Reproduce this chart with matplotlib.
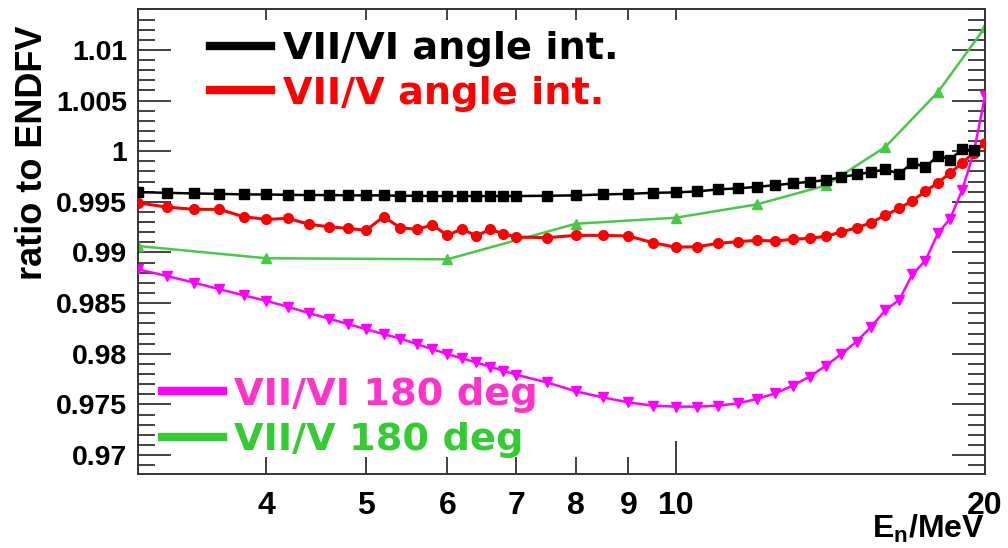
import matplotlib
matplotlib.use("Agg")
import matplotlib.pyplot as plt
from matplotlib.lines import Line2D
from matplotlib.ticker import FixedLocator, FixedFormatter, MultipleLocator

# Neutron energy grid (MeV) for the angle-integrated and 180 deg VII/VI ratios
energy = [3.0, 3.2, 3.4, 3.6, 3.8, 4.0, 4.2, 4.4, 4.6, 4.8, 5.0, 5.2, 5.4, 5.6,
          5.8, 6.0, 6.2, 6.4, 6.6, 6.8, 7.0, 7.5, 8.0, 8.5, 9.0, 9.5, 10.0,
          10.5, 11.0, 11.5, 12.0, 12.5, 13.0, 13.5, 14.0, 14.5, 15.0, 15.5,
          16.0, 16.5, 17.0, 17.5, 18.0, 18.5, 19.0, 19.5, 20.0]

# VII/VI angle integrated (ends at 19.5 MeV)
vii_vi_int = [0.99596, 0.99589, 0.99583, 0.99579, 0.99573, 0.99573, 0.99569,
              0.99567, 0.99567, 0.99564, 0.99564, 0.99564, 0.99560, 0.99560,
              0.99557, 0.99557, 0.99557, 0.99557, 0.99557, 0.99557, 0.99557,
              0.99560, 0.99564, 0.99573, 0.99579, 0.99589, 0.99593, 0.99603,
              0.99623, 0.99633, 0.99648, 0.99665, 0.99682, 0.99698, 0.99714,
              0.99744, 0.99770, 0.99793, 0.99820, 0.99777, 0.99885, 0.99842,
              0.99957, 0.99918, 1.00017, 1.00007]

# VII/V angle integrated
vii_v_int = [0.99491, 0.99448, 0.99426, 0.99426, 0.99353, 0.99327, 0.99337,
             0.99278, 0.99254, 0.99238, 0.99219, 0.99353, 0.99244, 0.99229,
             0.99271, 0.99169, 0.99234, 0.99163, 0.99229, 0.99185, 0.99153,
             0.99146, 0.99169, 0.99169, 0.99163, 0.99097, 0.99052, 0.99057,
             0.99090, 0.99107, 0.99120, 0.99113, 0.99130, 0.99140, 0.99160,
             0.99202, 0.99244, 0.99294, 0.99369, 0.99435, 0.99512, 0.99603,
             0.99688, 0.99786, 0.99882, 0.99983, 1.00082]

# VII/VI at 180 deg
vii_vi_180 = [0.98834, 0.98768, 0.98703, 0.98637, 0.98578, 0.98522, 0.98463,
              0.98401, 0.98348, 0.98293, 0.98243, 0.98194, 0.98150, 0.98096,
              0.98046, 0.97997, 0.97954, 0.97914, 0.97872, 0.97833, 0.97793,
              0.97717, 0.97629, 0.97569, 0.97520, 0.97488, 0.97478, 0.97478,
              0.97488, 0.97510, 0.97554, 0.97609, 0.97685, 0.97773, 0.97882,
              0.97997, 0.98121, 0.98266, 0.98431, 0.98530, 0.98785, 0.98920,
              0.99190, 0.99335, 0.99614, 0.99985, 1.00542]

# VII/V at 180 deg (coarser grid)
energy_coarse = [3.0, 4.0, 6.0, 8.0, 10.0, 12.0, 14.0, 16.0, 18.0, 20.0]
vii_v_180 = [0.99064, 0.98943, 0.98933, 0.99284, 0.99343, 0.99475, 0.99662,
             1.00042, 1.00584, 1.01222]

labels = ["VII/VI angle int.", "VII/V angle int.", "VII/VI 180 deg", "VII/V 180 deg"]

x_major = [10, 20]
x_major_labels = ["10", "20"]
x_minor = [4, 5, 6, 7, 8, 9]
x_minor_labels = ["4", "5", "6", "7", "8", "9"]

plt.rcParams["mathtext.fontset"] = "custom"
plt.rcParams["mathtext.bf"] = "Liberation Sans:bold"
plt.rcParams["mathtext.rm"] = "Liberation Sans:bold"
plt.rcParams["mathtext.it"] = "Liberation Sans:bold"

fig = plt.figure(figsize=(10.08, 5.48), dpi=100)
ax = fig.add_axes([138 / 1008, 1 - 474 / 548, 847 / 1008, 465 / 548])

GREEN_LINE = "#47c947"
GREEN_TEXT = "#33cc33"
MAGENTA_TEXT = "#ff33cc"

ax.plot(energy_coarse, vii_v_180, color=GREEN_LINE, lw=1.8, marker="^",
        ms=6.5, zorder=2)
ax.plot(energy, vii_vi_180, color="#ff00ff", lw=1.8, marker="v", ms=6.5,
        zorder=3)
ax.plot(energy, vii_v_int, color="#ff0000", lw=2.2, marker="o", ms=7,
        zorder=4)
ax.plot(energy[:len(vii_vi_int)], vii_vi_int, color="black", lw=1.8,
        marker="s", ms=7.3, zorder=5)

ax.set_xscale("log")
ax.set_xlim(3.0, 20.0)
ax.set_ylim(0.96813, 1.01404)

ax.xaxis.set_major_locator(FixedLocator(x_major))
ax.xaxis.set_major_formatter(FixedFormatter(x_major_labels))
ax.xaxis.set_minor_locator(FixedLocator(x_minor))
ax.xaxis.set_minor_formatter(FixedFormatter(x_minor_labels))
ax.yaxis.set_major_locator(MultipleLocator(0.005))
ax.yaxis.set_minor_locator(MultipleLocator(0.001))


def ytick_fmt(v, pos):
    s = "%.3f" % v
    s = s.rstrip("0").rstrip(".")
    return s


ax.yaxis.set_major_formatter(plt.FuncFormatter(ytick_fmt))

ax.tick_params(axis="x", which="both", direction="in", bottom=True, top=False,
               pad=12, labelsize=23, width=1.2, color="#222222")
ax.tick_params(axis="x", which="major", length=24)
ax.tick_params(axis="x", which="minor", length=12)
ax.tick_params(axis="y", which="both", direction="in", left=True, right=True,
               pad=8, labelsize=20.5, width=1.2, color="#222222")
ax.tick_params(axis="y", which="major", length=24)
ax.tick_params(axis="y", which="minor", length=12)

top = ax.secondary_xaxis("top")
top.xaxis.set_major_locator(FixedLocator(x_major))
top.xaxis.set_minor_locator(FixedLocator(x_minor))
top.tick_params(which="both", direction="in", length=8, width=1.2,
                labeltop=False, color="#222222")
top.spines["top"].set_visible(False)

for sp in ax.spines.values():
    sp.set_linewidth(1.4)
    sp.set_color("#333333")

for lab in ax.get_xticklabels(which="both") + ax.get_yticklabels():
    lab.set_family("Liberation Sans")
    lab.set_weight("bold")

ax.set_ylabel("ratio to ENDFV", fontsize=26, family="Liberation Sans",
              weight="bold", loc="top")
ax.yaxis.set_label_coords(-0.104, 0.965)
ax.set_xlabel(r"$\mathbf{E_{n}/MeV}$", fontsize=23, loc="right")
ax.xaxis.set_label_coords(1.0, -0.084)

leg_font = dict(family="DejaVu Sans", weight="bold", size=27.5)
h_top = [Line2D([], [], color="black", lw=6),
         Line2D([], [], color="#ff0000", lw=6)]
leg1 = ax.legend(h_top, labels[:2], loc="center left",
                 bbox_to_anchor=(0.085, 0.8656), frameon=False,
                 prop=leg_font, handlelength=1.6, handletextpad=0.3,
                 labelspacing=0.22, borderpad=0, borderaxespad=0,
                 labelcolor=["black", "#ff0000"])
ax.add_artist(leg1)
h_bot = [Line2D([], [], color="#ff00ff", lw=6),
         Line2D([], [], color=GREEN_TEXT, lw=6)]
ax.legend(h_bot, labels[2:], loc="center left",
          bbox_to_anchor=(0.028, 0.1215), frameon=False, prop=leg_font,
          handlelength=1.6, handletextpad=0.3, labelspacing=0.26,
          borderpad=0, borderaxespad=0,
          labelcolor=[MAGENTA_TEXT, GREEN_TEXT])

fig.savefig("out.png", dpi=100)
